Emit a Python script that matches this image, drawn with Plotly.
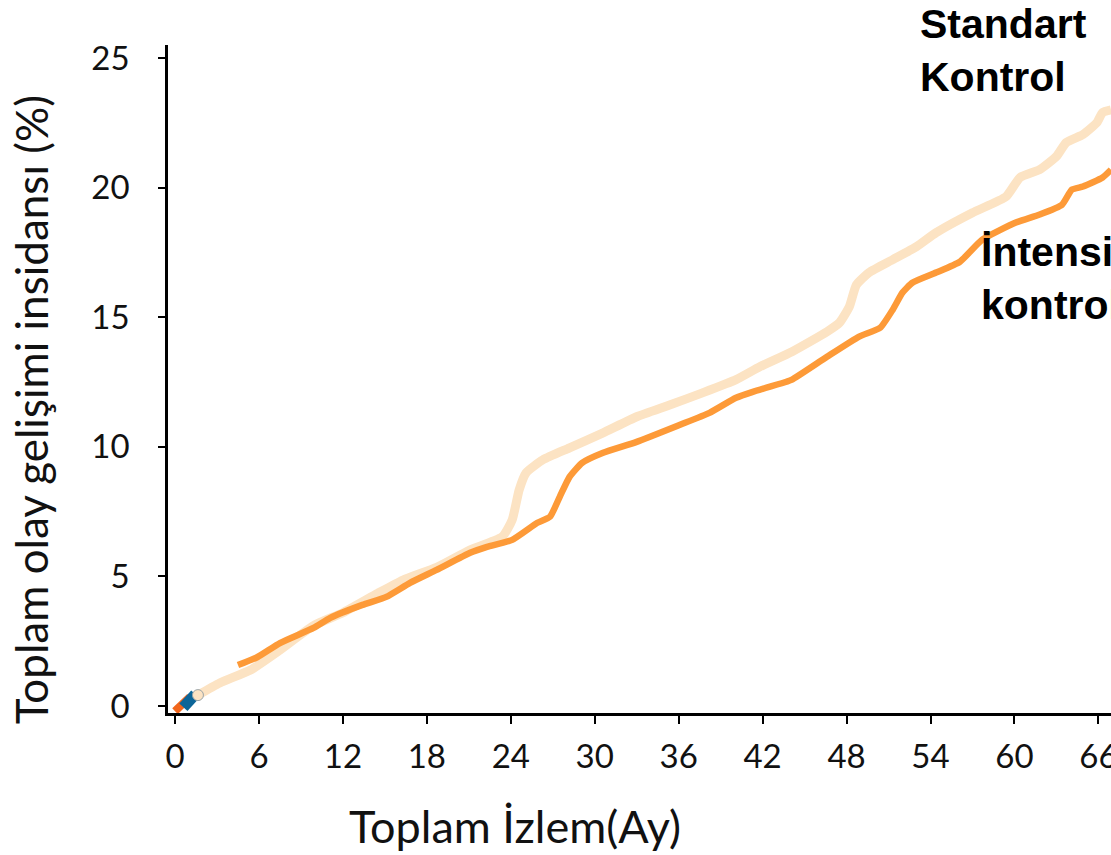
import plotly.graph_objects as go

# Standart kontrol (light peach)
std_x = [1.64, 3.2, 5.4, 7.5, 9.9, 12.0, 14.5, 16.3, 18.7, 21.0, 23.4, 24.1, 24.6, 25.1, 26.3,
         28.2, 30.6, 33.0, 35.4, 37.7, 40.1, 41.8, 44.1, 46.6, 47.5, 48.2, 48.7, 49.6, 51.3,
         53.0, 54.4, 57.0, 59.4, 60.4, 61.8, 63.0, 63.7, 64.9, 65.9, 66.3, 66.9]
std_y = [0.42, 0.89, 1.39, 2.16, 3.1, 3.6, 4.35, 4.86, 5.35, 6.0, 6.53, 7.18, 8.34, 9.0, 9.5,
         9.96, 10.54, 11.16, 11.62, 12.08, 12.59, 13.09, 13.67, 14.44, 14.79, 15.41, 16.25, 16.72, 17.22,
         17.72, 18.26, 19.03, 19.65, 20.39, 20.69, 21.2, 21.74, 22.05, 22.51, 22.9, 23.0]

# İntensif kontrol (orange)
int_x = [4.5, 5.9, 7.5, 9.9, 11.1, 13.4, 15.1, 16.8, 18.7, 21.1, 22.3, 24.1, 25.9, 26.8, 27.5,
         28.2, 29.1, 30.6, 33.0, 36.1, 38.2, 40.1, 41.3, 43.7, 44.1, 46.6, 48.9, 50.4, 51.3, 52.0,
         52.7, 54.4, 56.1, 57.7, 60.1, 61.8, 63.4, 64.1, 64.9, 66.3, 66.9]
int_y = [1.58, 1.89, 2.43, 3.01, 3.40, 3.90, 4.21, 4.75, 5.25, 5.91, 6.14, 6.41, 7.07, 7.30, 8.07,
         8.84, 9.38, 9.77, 10.19, 10.85, 11.31, 11.89, 12.12, 12.51, 12.59, 13.47, 14.25, 14.59, 15.29, 15.95,
         16.33, 16.72, 17.14, 17.99, 18.65, 18.96, 19.34, 19.92, 20.04, 20.39, 20.69]

# small marks at the origin
red_x = [0.0, 1.07]
red_y = [-0.2, 0.35]
blue_x = [0.6, 1.45]
blue_y = [-0.05, 0.45]
dot_x = [1.64]
dot_y = [0.42]

x_ticks = [0, 6, 12, 18, 24, 30, 36, 42, 48, 54, 60, 66]
y_ticks = [0, 5, 10, 15, 20, 25]

fig = go.Figure()
fig.add_trace(go.Scatter(x=std_x, y=std_y, mode="lines",
                         line=dict(color="#FCE3C3", width=9, shape="spline", smoothing=0.5),
                         name="Standart Kontrol"))
fig.add_trace(go.Scatter(x=int_x, y=int_y, mode="lines",
                         line=dict(color="#FD9A38", width=6.5, shape="spline", smoothing=0.5),
                         name="İntensif kontrol"))
fig.add_trace(go.Scatter(x=red_x, y=red_y, mode="lines",
                         line=dict(color="#F2661C", width=8)))
fig.add_trace(go.Scatter(x=blue_x, y=blue_y, mode="lines",
                         line=dict(color="#0C6598", width=11)))
fig.add_trace(go.Scatter(x=dot_x, y=dot_y, mode="markers",
                         marker=dict(color="#FCE3C3", size=11,
                                     line=dict(color="#9aa4a8", width=1))))

tick_font = dict(family="Lato", size=33, color="#111111")

fig.update_layout(
    width=1111, height=855,
    margin=dict(l=168, r=0, t=45, b=142, autoexpand=False),
    paper_bgcolor="white", plot_bgcolor="white",
    showlegend=False,
    xaxis=dict(range=[-0.5, 66.9], tickvals=x_ticks, ticks="outside", ticklen=8,
               tickwidth=2, tickcolor="black", showline=True, linecolor="black",
               linewidth=2.5, showgrid=False, zeroline=False, tickfont=tick_font,
               ticklabelstandoff=5, ticklabeloverflow="allow", automargin=False),
    yaxis=dict(range=[-0.27, 25.5], tickvals=y_ticks, ticks="outside", ticklen=7,
               tickwidth=2, tickcolor="black", showline=True, linecolor="black",
               linewidth=2.5, showgrid=False, zeroline=False, tickfont=tick_font,
               ticklabelstandoff=22, automargin=False),
    annotations=[
        dict(text="Toplam İzlem(Ay)", xref="paper", yref="paper",
             x=0.368, y=-0.169, xanchor="center", yanchor="middle", showarrow=False,
             font=dict(family="Lato", size=45, color="#111111")),
        dict(text="Toplam olay gelişimi insidansı (%)", xref="paper", yref="paper",
             x=-0.145, y=0.4536, xanchor="center", yanchor="middle", textangle=-90,
             showarrow=False, font=dict(family="Lato", size=44, color="#111111")),
        dict(text="<b>Standart<br>Kontrol</b>", xref="paper", yref="paper",
             x=(918 - 168) / 943, y=(713 + 1) / 668, xanchor="left", yanchor="top",
             align="left", showarrow=False,
             font=dict(family="Liberation Sans", size=41, color="black")),
        dict(text="<b>İntensif<br>kontrol</b>", xref="paper", yref="paper",
             x=(979 - 168) / 943, y=(713 - 227) / 668, xanchor="left", yanchor="top",
             align="left", showarrow=False,
             font=dict(family="Liberation Sans", size=41, color="black")),
    ],
)

fig.write_html("out.html")
